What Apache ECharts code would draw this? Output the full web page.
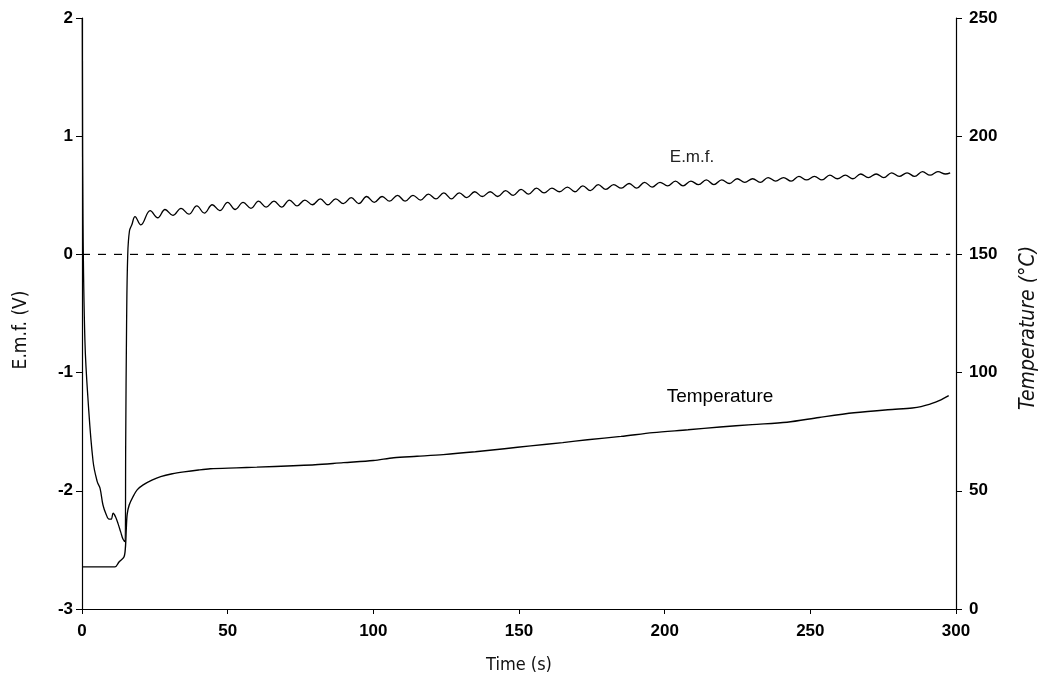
<!DOCTYPE html>
<html><head><meta charset="utf-8">
<script src="https://cdn.jsdelivr.net/npm/echarts@6/dist/echarts.min.js"></script>
<style>html,body{margin:0;padding:0;background:#fff}#c{width:1043px;height:681px}</style>
</head><body><div id="c"></div><script>
// Time axis (s)
const timeTicks = [0, 50, 100, 150, 200, 250, 300];
const emfTicks = [-3, -2, -1, 0, 1, 2];
const tempTicks = [0, 50, 100, 150, 200, 250];

// E.m.f. (V) vs time (s)
const emfTime = [0.1, 0.34, 1.0, 2.1, 3.8, 5.2, 6.2, 7.2, 8.3, 9.3, 10.0, 10.7, 11.5, 12.4, 13.3, 14.1, 14.8,
  15.0, 15.3, 15.7, 16.3, 17.1, 18.2, 20.2,
  23.4, 26.0, 28.5, 31.2, 34.0, 36.7, 39.4, 42.0, 44.7, 47.3, 50.0, 52.6, 55.3, 58.0, 60.6, 63.2, 65.9, 68.5,
  71.2, 73.8, 76.5, 79.1, 81.8, 84.4, 87.1, 89.7, 92.4, 95.0, 97.7, 100.3, 103.0, 105.6, 108.3, 110.9,
  113.6, 116.2, 118.9, 121.5, 124.2, 126.8, 129.5, 132.1, 134.8, 137.4, 140.1, 142.7, 145.4, 148.0,
  150.7, 153.3, 156.0, 158.6, 161.3, 163.9, 166.6, 169.2, 171.9, 174.5, 177.2, 179.8, 182.5, 185.1,
  187.8, 190.4, 193.1, 195.7, 198.4, 201.0, 203.7, 206.3, 209.0, 211.6, 214.3, 216.9, 219.6, 222.2,
  224.9, 227.5, 230.2, 232.8, 235.5, 238.1, 240.8, 243.4, 246.1, 248.7, 251.4, 254.0, 256.7, 259.3,
  262.0, 264.6, 267.3, 269.9, 272.6, 275.2, 277.9, 280.5, 283.2, 285.8, 288.5, 291.1, 293.8, 296.4, 298.0];
const emfValue = [2.0, 0.29, -0.73, -1.24, -1.75, -1.92, -1.98, -2.12, -2.2, -2.24, -2.24, -2.19, -2.22, -2.28, -2.35, -2.41, -2.43,
  -1.6, -0.6, 0.0, 0.2, 0.25, 0.32, 0.25,
  0.37, 0.31, 0.38, 0.33, 0.39, 0.34, 0.41, 0.35, 0.42, 0.37, 0.44, 0.38, 0.44, 0.39, 0.45, 0.40, 0.45, 0.40,
  0.46, 0.41, 0.46, 0.42, 0.47, 0.42, 0.47, 0.43, 0.48, 0.43, 0.49, 0.44, 0.49, 0.45, 0.50, 0.45,
  0.50, 0.46, 0.51, 0.47, 0.52, 0.47, 0.52, 0.48, 0.53, 0.49, 0.53, 0.49, 0.54, 0.50,
  0.55, 0.51, 0.56, 0.52, 0.56, 0.53, 0.57, 0.53, 0.58, 0.54, 0.59, 0.55, 0.59, 0.56,
  0.60, 0.56, 0.61, 0.57, 0.61, 0.58, 0.62, 0.58, 0.62, 0.59, 0.63, 0.59, 0.63, 0.60,
  0.64, 0.61, 0.64, 0.61, 0.65, 0.62, 0.65, 0.62, 0.66, 0.63, 0.66, 0.63, 0.67, 0.64,
  0.67, 0.64, 0.68, 0.65, 0.68, 0.65, 0.69, 0.66, 0.69, 0.66, 0.70, 0.67, 0.70, 0.68, 0.69];

// Temperature (°C) vs time (s)
const tempTime = [0, 11.3, 12.7, 14.4, 14.9, 15.2, 15.5, 16.2, 17.5, 19, 21, 24, 27, 31, 35, 40, 44, 53, 60,
  72.5, 80, 89.7, 100, 107, 115, 124, 135, 145, 154, 165, 173.5, 185, 196, 208, 219, 230, 242, 253,
  265, 276.6, 285, 288, 293, 297.5];
const tempValue = [17.8, 17.8, 19.9, 22, 26, 34, 40, 44, 47.5, 50.5, 52.5, 54.5, 56, 57.2, 58, 58.8, 59.3, 59.7, 60,
  60.6, 61, 61.9, 62.8, 64, 64.6, 65.3, 66.5, 67.8, 69, 70.4, 71.6, 73, 74.6, 75.8, 77, 78, 79, 81,
  83, 84.3, 85, 85.6, 87.5, 90.3];

// Zero reference (dashed)
const zeroTime = [0, 298];
const zeroValue = [0, 0];

const zip = (a, b) => a.map((v, i) => [v, b[i]]);

const tickFont = { fontFamily: "'Liberation Sans', Arial, sans-serif", fontWeight: 'bold', fontSize: 17, color: '#000' };
const titleFont = "'Liberation Sans Narrow', 'DejaVu Sans Condensed', 'DejaVu Sans', sans-serif";

const chart = echarts.init(document.getElementById('c'), null, { renderer: 'canvas' });
chart.setOption({
  animation: false,
  backgroundColor: '#fff',
  grid: { left: 82, right: 87, top: 18, bottom: 72, containLabel: false },
  xAxis: {
    type: 'value', min: timeTicks[0], max: timeTicks[timeTicks.length - 1], interval: 50,
    name: 'Time (s)', nameLocation: 'middle', nameGap: 47,
    nameTextStyle: { fontFamily: titleFont, fontSize: 18, color: '#111' },
    axisLine: { onZero: false, lineStyle: { color: '#000', width: 1.2 } },
    axisTick: { show: true, length: 5, inside: false, lineStyle: { color: '#000' } },
    axisLabel: Object.assign({ margin: 14 }, tickFont),
    splitLine: { show: false }
  },
  yAxis: [
    {
      type: 'value', min: emfTicks[0], max: emfTicks[emfTicks.length - 1], interval: 1, position: 'left',
      axisLine: { show: true, onZero: false, lineStyle: { color: '#000', width: 1.2 } },
      axisTick: { show: true, length: 6, lineStyle: { color: '#000' } },
      axisLabel: Object.assign({ margin: 9 }, tickFont),
      splitLine: { show: false }
    },
    {
      type: 'value', min: tempTicks[0], max: tempTicks[tempTicks.length - 1], interval: 50, position: 'right',
      axisLine: { show: true, onZero: false, lineStyle: { color: '#000', width: 1.2 } },
      axisTick: { show: true, length: 6, lineStyle: { color: '#000' } },
      axisLabel: Object.assign({ margin: 13 }, tickFont),
      splitLine: { show: false }
    }
  ],
  graphic: [
    { type: 'text', x: 21, y: 330, rotation: Math.PI / 2, style: { text: 'E.m.f. (V)', align: 'center', verticalAlign: 'middle', font: "19px " + titleFont, fill: '#111' } },
    { type: 'text', x: 1029, y: 328, rotation: Math.PI / 2, style: { text: 'Temperature (°C)', align: 'center', verticalAlign: 'middle', font: "italic 21px " + titleFont, fill: '#111' } },
    { type: 'text', x: 692, y: 157, style: { text: 'E.m.f.', align: 'center', verticalAlign: 'middle', font: "17px 'Liberation Sans', Arial, sans-serif", fill: '#222' } },
    { type: 'text', x: 720, y: 397, style: { text: 'Temperature', align: 'center', verticalAlign: 'middle', font: "19px 'Liberation Sans', Arial, sans-serif", fill: '#000' } }
  ],
  series: [
    {
      name: 'zero', type: 'line', yAxisIndex: 0, data: zip(zeroTime, zeroValue), symbol: 'none',
      lineStyle: { color: '#000', width: 1.2, type: [8, 8] }, silent: true
    },
    {
      name: 'E.m.f.', type: 'line', yAxisIndex: 0, data: zip(emfTime, emfValue), symbol: 'none', smooth: 0.4,
      lineStyle: { color: '#000', width: 1.3 }, clip: true
    },
    {
      name: 'Temperature', type: 'line', yAxisIndex: 1, data: zip(tempTime, tempValue), symbol: 'none', smooth: 0.3,
      lineStyle: { color: '#000', width: 1.4 }, clip: true
    }
  ]
});
</script></body></html>
